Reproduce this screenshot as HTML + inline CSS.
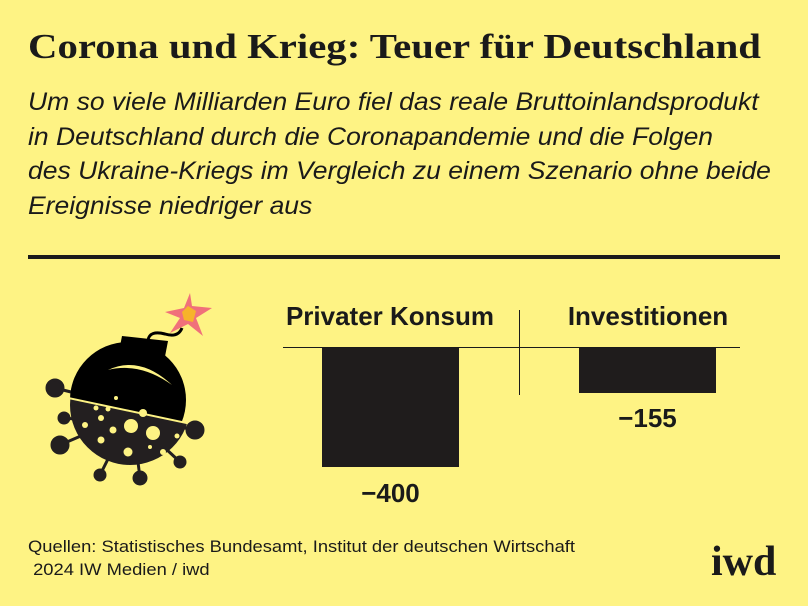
<!DOCTYPE html>
<html><head><meta charset="utf-8"><style>
html,body{margin:0;padding:0}
body{width:808px;height:606px;background:#fef384;position:relative;overflow:hidden;font-family:"Liberation Sans","DejaVu Sans",sans-serif;color:#1a1a1a}
.t{position:absolute;white-space:nowrap;transform-origin:0 0}
</style></head><body>
<div class="t" style="left:28px;top:27px;font-family:'Liberation Serif',serif;font-weight:bold;font-size:35px;transform:scaleX(1.165);">Corona und Krieg: Teuer für Deutschland</div>
<div class="t" style="left:28px;top:85px;font-style:italic;font-size:25px;line-height:34.5px;transform:scaleX(1.06);">Um so viele Milliarden Euro fiel das reale Bruttoinlandsprodukt<br>in Deutschland durch die Coronapandemie und die Folgen<br>des Ukraine-Kriegs im Vergleich zu einem Szenario ohne beide<br>Ereignisse niedriger aus</div>
<div style="position:absolute;left:28px;top:255px;width:752px;height:4px;background:#1a1a1a"></div>
<div class="t" style="left:270px;width:240px;text-align:center;top:301px;font-weight:bold;font-size:26px;">Privater Konsum</div>
<div class="t" style="left:530px;width:236px;text-align:center;top:301px;font-weight:bold;font-size:26px;">Investitionen</div>
<div style="position:absolute;left:283px;top:347px;width:457px;height:1px;background:#1a1a1a"></div>
<div style="position:absolute;left:519px;top:310px;width:1px;height:85px;background:#1a1a1a"></div>
<div style="position:absolute;left:322px;top:348px;width:137px;height:119px;background:#1f1c1c"></div>
<div style="position:absolute;left:579px;top:348px;width:137px;height:45px;background:#1f1c1c"></div>
<div class="t" style="left:322px;width:137px;text-align:center;top:478px;font-weight:bold;font-size:26px;">−400</div>
<div class="t" style="left:579px;width:137px;text-align:center;top:403px;font-weight:bold;font-size:26px;">−155</div>
<div class="t" style="left:28px;top:535px;font-size:17px;line-height:23px;transform:scaleX(1.08);">Quellen: Statistisches Bundesamt, Institut der deutschen Wirtschaft<br>&nbsp;2024 IW Medien / iwd</div>
<div class="t" style="left:711px;top:538px;font-family:'Liberation Serif',serif;font-weight:bold;font-size:42px;">iwd</div>
<svg style="position:absolute;left:0;top:0" width="808" height="606">
<defs><clipPath id="low"><polygon points="40,393 210,429 210,490 40,490"/></clipPath>
<clipPath id="up"><polygon points="40,300 210,300 210,427 40,391"/></clipPath></defs>
<g stroke="#231f20" stroke-width="3" fill="#231f20">
<line x1="55" y1="388" x2="95" y2="398"/><circle cx="55" cy="388" r="8"/>
<line x1="64" y1="418" x2="85" y2="420"/><circle cx="64" cy="418" r="5"/>
<line x1="60" y1="445" x2="90" y2="432"/><circle cx="60" cy="445" r="8"/>
<line x1="100" y1="475" x2="110" y2="455"/><circle cx="100" cy="475" r="5"/>
<line x1="195" y1="430" x2="170" y2="425"/><circle cx="195" cy="430" r="8"/>
<line x1="180" y1="462" x2="165" y2="448"/><circle cx="180" cy="462" r="5"/>
<line x1="140" y1="478" x2="138" y2="462"/><circle cx="140" cy="478" r="6"/>
</g>
<circle cx="130" cy="405" r="60" fill="#231f20" clip-path="url(#low)"/>
<g clip-path="url(#up)"><circle cx="128" cy="400" r="58" fill="#000"/></g>
<polygon points="122,336 168,341 162,372 116,367" fill="#000"/>
<path d="M108,370 Q140,355 172,385 Q140,362 108,370Z" fill="#fef384"/>
<path d="M148,340 Q150,330 165,334 Q178,338 182,328" stroke="#000" stroke-width="3" fill="none"/>
<polygon points="190,293 192,306 212,308 196,318 203,336 188,324 170,333 180,318 165,312 184,308" fill="#f0707a"/>
<polygon points="188,306 196,311 193,322 184,320 182,312" fill="#f7b32a"/>
<g fill="#fef384">
<circle cx="131" cy="426" r="7"/><circle cx="153" cy="433" r="7"/><circle cx="113" cy="430" r="3.5"/>
<circle cx="101" cy="418" r="3"/><circle cx="96" cy="408" r="2.5"/><circle cx="108" cy="409" r="2.5"/>
<circle cx="85" cy="425" r="3"/><circle cx="101" cy="440" r="3.5"/><circle cx="143" cy="413" r="4"/>
<circle cx="128" cy="452" r="4.5"/><circle cx="163" cy="452" r="3"/><circle cx="177" cy="436" r="2.5"/>
<circle cx="116" cy="398" r="2"/><circle cx="150" cy="447" r="2"/>
</g>
</svg>
</body></html>
